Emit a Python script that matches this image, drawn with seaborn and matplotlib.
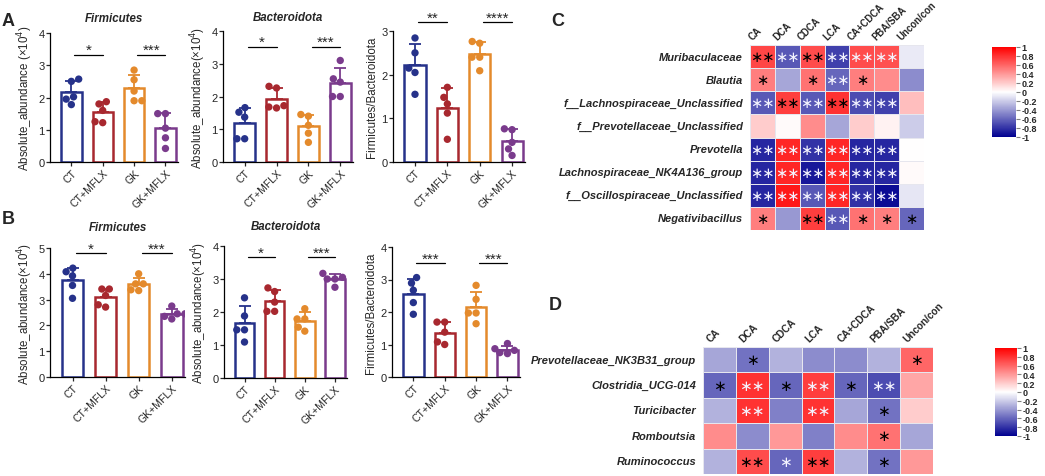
import numpy as np
import pandas as pd
import matplotlib
matplotlib.use("Agg")
import matplotlib.pyplot as plt
import seaborn as sns
from matplotlib.colors import LinearSegmentedColormap

sns.set_theme(style="white")
plt.rcParams["font.family"] = ["Liberation Sans", "DejaVu Sans"]

W, H = 1045, 477

GROUPS = ["CT", "CT+MFLX", "GK", "GK+MFLX"]
GROUP_COLORS = ["#26328a", "#a8282f", "#e48a2c", "#7a3b8c"]

# panel A, 5 mice per group
A_FIRM = [[2.57, 2.50, 2.02, 1.78, 1.95], [1.87, 1.80, 1.60, 1.25, 1.22],
          [2.85, 2.55, 2.20, 1.90, 1.90], [1.50, 1.50, 1.05, 0.75, 0.42]]
A_BACT = [[1.66, 1.52, 1.37, 0.71, 0.71], [2.31, 2.26, 1.68, 1.65, 1.72],
          [1.45, 1.40, 1.12, 0.88, 0.60], [3.10, 2.54, 2.44, 2.00, 2.00]]
A_RATIO = [[2.84, 2.50, 2.15, 2.05, 1.55], [1.71, 1.48, 1.33, 1.12, 0.52],
           [2.76, 2.72, 2.40, 2.40, 2.09], [0.76, 0.74, 0.45, 0.30, 0.15]]
# panel B
B_FIRM = [[4.22, 4.08, 3.92, 3.55, 3.05], [3.41, 3.41, 3.16, 2.71, 2.80],
          [4.00, 3.61, 3.61, 3.35, 3.38], [2.75, 2.45, 2.45, 2.35, 2.25]]
B_BACT = [[2.43, 1.88, 1.46, 1.46, 1.09], [2.73, 2.62, 2.30, 2.02, 2.02],
          [2.10, 1.79, 1.79, 1.42, 1.54], [3.17, 3.05, 3.00, 3.00, 2.75]]
B_RATIO = [[3.06, 2.89, 2.67, 2.29, 1.93], [1.69, 1.69, 1.38, 1.00, 1.08],
           [2.82, 2.39, 1.97, 1.97, 1.64], [1.03, 0.87, 0.82, 0.75, 0.72]]

# significance labels (CT vs CT+MFLX, GK vs GK+MFLX) and bracket heights
A_FIRM_SIG, A_FIRM_SIG_Y = ["*", "***"], 3.33
A_BACT_SIG, A_BACT_SIG_Y = ["*", "***"], 3.52
A_RATIO_SIG, A_RATIO_SIG_Y = ["**", "****"], 3.2
B_FIRM_SIG, B_FIRM_SIG_Y = ["*", "***"], 4.8
B_BACT_SIG, B_BACT_SIG_Y = ["*", "***"], 3.66
B_RATIO_SIG, B_RATIO_SIG_Y = ["***", "***"], 3.5

# heatmaps
HM_COLS = ["CA", "DCA", "CDCA", "LCA", "CA+CDCA", "PBA/SBA", "Unconcon"]
HM_COL_LABELS = ["CA", "DCA", "CDCA", "LCA", "CA+CDCA", "PBA/SBA", "Uncon/con"]

C_ROWS = ["Muribaculaceae", "Blautia", "f__Lachnospiraceae_Unclassified",
          "f__Prevotellaceae_Unclassified", "Prevotella",
          "Lachnospiraceae_NK4A136_group", "f__Oscillospiraceae_Unclassified",
          "Negativibacillus"]
C_VALUES = [[0.72, -0.65, 0.70, -0.75, 0.70, 0.68, -0.08],
            [0.50, -0.35, 0.55, -0.60, 0.50, 0.45, -0.45],
            [-0.65, 0.75, -0.65, 0.80, -0.70, -0.75, 0.25],
            [0.20, 0.02, 0.45, -0.35, 0.20, 0.05, -0.20],
            [-0.85, 0.85, -0.80, 0.85, -0.85, -0.85, 0.00],
            [-0.85, 0.85, -0.90, 0.85, -0.85, -0.85, 0.02],
            [-0.85, 0.90, -0.65, 0.85, -0.80, -0.95, -0.10],
            [0.50, -0.40, 0.75, -0.65, 0.55, 0.50, -0.60]]
C_STARS = [["**", "**", "**", "**", "**", "**", ""],
           ["*", "", "*", "**", "*", "", ""],
           ["**", "**", "**", "**", "**", "**", ""],
           ["", "", "", "", "", "", ""],
           ["**", "**", "**", "**", "**", "**", ""],
           ["**", "**", "**", "**", "**", "**", ""],
           ["**", "**", "**", "**", "**", "**", ""],
           ["*", "", "**", "**", "*", "*", "*"]]
C_STAR_COLOR = [["k", "w", "k", "w", "w", "w", ""],
                ["k", "", "k", "w", "k", "", ""],
                ["w", "k", "w", "k", "w", "w", ""],
                ["", "", "", "", "", "", ""],
                ["w", "w", "w", "w", "w", "w", ""],
                ["w", "w", "w", "w", "w", "w", ""],
                ["w", "w", "w", "w", "w", "w", ""],
                ["k", "", "k", "w", "k", "k", "k"]]

D_ROWS = ["Prevotellaceae_NK3B31_group", "Clostridia_UCG-014", "Turicibacter",
          "Romboutsia", "Ruminococcus"]
D_VALUES = [[-0.35, -0.55, -0.30, -0.45, -0.45, -0.30, 0.60],
            [-0.60, 0.80, -0.60, 0.75, -0.60, -0.70, 0.35],
            [-0.30, 0.80, -0.50, 0.80, -0.35, -0.55, 0.20],
            [0.45, -0.45, 0.40, -0.50, 0.45, 0.55, -0.35],
            [-0.30, 0.70, -0.60, 0.75, -0.30, -0.55, 0.40]]
D_STARS = [["", "*", "", "", "", "", "*"],
           ["*", "**", "*", "**", "*", "**", ""],
           ["", "**", "", "**", "", "*", ""],
           ["", "", "", "", "", "*", ""],
           ["", "**", "*", "**", "", "*", ""]]
D_STAR_COLOR = [["", "k", "", "", "", "", "k"],
                ["k", "w", "k", "w", "k", "w", ""],
                ["", "w", "", "w", "", "k", ""],
                ["", "", "", "", "", "k", ""],
                ["", "k", "w", "k", "", "k", ""]]

CBAR_TICKS = [1, 0.8, 0.6, 0.4, 0.2, 0, -0.2, -0.4, -0.6, -0.8, -1]

cmap = LinearSegmentedColormap.from_list("bwr2", ["#000090", "#ffffff", "#ff0000"])


def px_axes(fig, l, t, r, b):
    return fig.add_axes([l / W, 1 - b / H, (r - l) / W, (b - t) / H])


def bar_panel(ax, values, ylim, yticks, ylabel, sig, sig_y, title=None, pad=9):
    df = pd.DataFrame({"group": np.repeat(GROUPS, [len(v) for v in values]),
                       "value": np.concatenate(values)})
    sns.barplot(data=df, x="group", y="value", hue="group", order=GROUPS,
                palette=GROUP_COLORS, errorbar=None, width=0.65, fill=False,
                linewidth=1.8, legend=False, ax=ax)
    sns.swarmplot(data=df, x="group", y="value", hue="group", order=GROUPS,
                  palette=GROUP_COLORS, size=5.3, legend=False, ax=ax)
    means = df.groupby("group", sort=False)["value"].mean().values
    sds = df.groupby("group", sort=False)["value"].std().values
    for i, c in enumerate(GROUP_COLORS):
        ax.errorbar(i, means[i], yerr=[[0], [sds[i]]], color=c, lw=1.3,
                    capsize=4, capthick=1.3, zorder=5)
    for k, lab in enumerate(sig):
        x0 = 2 * k + 0.1
        ax.plot([x0, x0 + 0.9], [sig_y, sig_y], color="black", lw=0.9,
                clip_on=False)
        ax.annotate(lab, (x0 + 0.45, sig_y), xytext=(0, 0.5),
                    textcoords="offset points", ha="center", va="baseline",
                    fontsize=11, annotation_clip=False)
    ax.set_ylim(*ylim)
    ax.set_yticks(yticks)
    ax.set_xlim(-0.68, 3.4)
    ax.set_xlabel("")
    ax.set_ylabel(ylabel, fontsize=8.3, labelpad=2)
    ax.tick_params(axis="y", labelsize=8, length=3, width=0.9, pad=1, left=True)
    ax.tick_params(axis="x", labelsize=7.6, length=3, width=0.9, pad=1, bottom=True)
    plt.setp(ax.get_xticklabels(), rotation=45, ha="right", rotation_mode="anchor")
    sns.despine(ax=ax)
    for s in ["left", "bottom"]:
        ax.spines[s].set_linewidth(0.9)
        ax.spines[s].set_color("black")
    if title:
        ax.set_title(title, fontsize=8.3, fontweight="bold", fontstyle="italic",
                     pad=pad)


def heat_panel(ax, cax, rows, values, stars, star_colors, label_dx, star_size,
               label_size):
    df = pd.DataFrame(values, index=rows, columns=HM_COLS)
    sns.heatmap(df, ax=ax, cbar_ax=cax, cmap=cmap, vmin=-1, vmax=1,
                linewidths=0.6, linecolor="#e6e6ee", xticklabels=False,
                yticklabels=True)
    ax.tick_params(axis="y", length=0, pad=5)
    for t in ax.get_yticklabels():
        t.set_rotation(0)
        t.set_fontsize(8)
        t.set_fontweight("bold")
        t.set_fontstyle("italic")
    ax.set_ylabel("")
    for j, lab in enumerate(HM_COL_LABELS):
        ax.text(j + label_dx, -0.15, lab, rotation=45, rotation_mode="anchor",
                ha="left", va="bottom", fontsize=label_size, fontweight="bold")
    for i in range(len(rows)):
        for j in range(len(HM_COLS)):
            if stars[i][j]:
                col = "black" if star_colors[i][j] == "k" else "#f4f4ff"
                ax.text(j + 0.5, i + 0.5, stars[i][j].replace("*", "\u2217"),
                        ha="center", va="center", fontsize=star_size,
                        color=col, family="DejaVu Sans")
    cb = ax.collections[0].colorbar
    cb.set_ticks(CBAR_TICKS)
    cb.set_ticklabels([f"{v:g}" for v in CBAR_TICKS])
    cb.outline.set_visible(False)
    cax.tick_params(labelsize=6.5, length=3, width=0.8, color="#808080", pad=1)
    for t in cax.get_yticklabels():
        t.set_fontweight("bold")


fig = plt.figure(figsize=(W / 100, H / 100), dpi=100)

ax = px_axes(fig, 50, 34, 178, 163)
bar_panel(ax, A_FIRM, (0, 4), range(0, 5), "Absolute_abundance (×10$^4$)",
          A_FIRM_SIG, A_FIRM_SIG_Y, "Firmicutes", pad=9)
ax = px_axes(fig, 223, 32, 353, 163)
bar_panel(ax, A_BACT, (0, 4), range(0, 5), "Absolute_abundance(×10$^4$)",
          A_BACT_SIG, A_BACT_SIG_Y, "Bacteroidota", pad=8)
ax = px_axes(fig, 393, 32, 525, 163)
bar_panel(ax, A_RATIO, (0, 3), range(0, 4), "Firmicutes/Bacteroidota",
          A_RATIO_SIG, A_RATIO_SIG_Y)

ax = px_axes(fig, 50, 249, 185, 378)
bar_panel(ax, B_FIRM, (0, 5), range(0, 6), "Absolute_abundance(×10$^4$)",
          B_FIRM_SIG, B_FIRM_SIG_Y, "Firmicutes", pad=13)
ax = px_axes(fig, 224, 247, 347, 379)
bar_panel(ax, B_BACT, (0, 4), range(0, 5), "Absolute_abundance(×10$^4$)",
          B_BACT_SIG, B_BACT_SIG_Y, "Bacteroidota", pad=12)
ax = px_axes(fig, 392, 248, 520, 378)
bar_panel(ax, B_RATIO, (0, 4), range(0, 5), "Firmicutes/Bacteroidota",
          B_RATIO_SIG, B_RATIO_SIG_Y)

axc = px_axes(fig, 750, 46, 924, 231)
caxc = px_axes(fig, 992, 48, 1016, 138)
heat_panel(axc, caxc, C_ROWS, C_VALUES, C_STARS, C_STAR_COLOR, 0.15, 10.5, 6.9)

axd = px_axes(fig, 703, 348, 933, 475)
caxd = px_axes(fig, 995, 349, 1017, 437)
heat_panel(axd, caxd, D_ROWS, D_VALUES, D_STARS, D_STAR_COLOR, 0.27, 11, 7.2)

for lab, x, y in [("A", 2, 22), ("B", 2, 220), ("C", 551, 22), ("D", 549, 306)]:
    fig.text(x / W, 1 - y / H, lab, fontsize=13, fontweight="bold",
             ha="left", va="center")

fig.savefig("out.png", dpi=100)
